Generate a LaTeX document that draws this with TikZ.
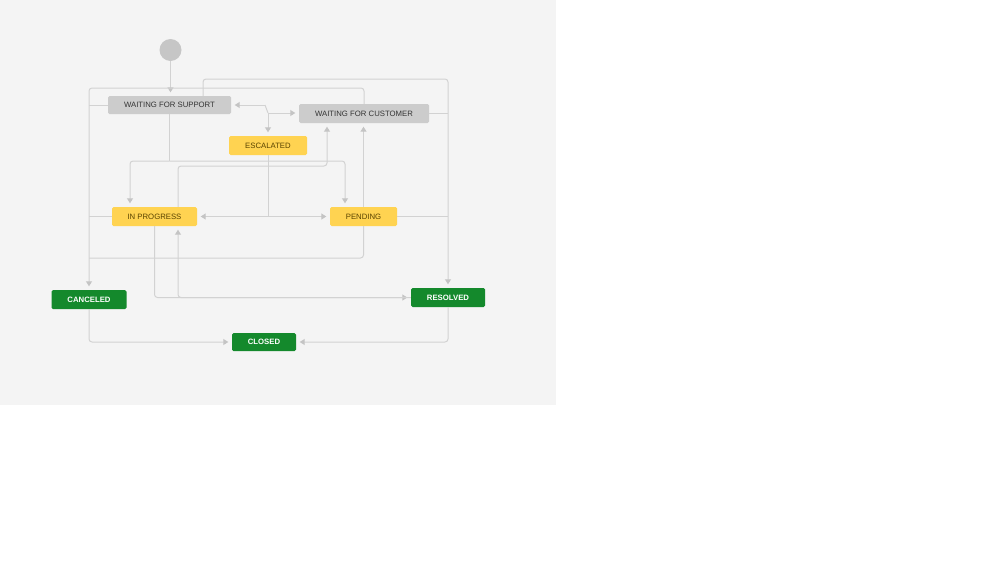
\documentclass[tikz,border=0pt]{standalone}
\usepackage{fontspec}
\setmainfont{Liberation Sans}
\usetikzlibrary{arrows.meta}
\definecolor{bggray}{HTML}{F4F4F4}
\definecolor{boxgray}{HTML}{CCCCCC}
\definecolor{boxyellow}{HTML}{FFD351}
\definecolor{boxgreen}{HTML}{14892C}
\definecolor{linegray}{HTML}{D2D2D2}
\definecolor{tipgray}{HTML}{C4C4C4}
\definecolor{txtdark}{HTML}{333333}
\definecolor{txtbrown}{HTML}{594300}
\tikzset{
  stbox/.style={rectangle, rounded corners=1.5pt, inner sep=0pt, font=\fontsize{7.75}{9}\selectfont},
  graybox/.style={stbox, fill=boxgray, text=txtdark},
  yellowbox/.style={stbox, fill=boxyellow, text=txtbrown},
  greenbox/.style={stbox, fill=boxgreen, text=white, font=\fontsize{7.75}{9}\selectfont\bfseries},
  conn/.style={draw=linegray, line width=1pt, rounded corners=3pt},
  arr/.style={conn, -{Triangle[length=5pt,width=6pt,color=tipgray]}, shorten >=3.5pt},
  arrboth/.style={conn, {Triangle[length=5pt,width=6pt,color=tipgray]}-{Triangle[length=5pt,width=6pt,color=tipgray]}, shorten >=3.5pt, shorten <=3.5pt},
}
\begin{document}
\begin{tikzpicture}[x=1pt,y=-1pt]
\useasboundingbox (0,0) rectangle (999,562);
\fill[white] (0,0) rectangle (999,562);
\fill[bggray] (0,0) rectangle (556,405);

% nodes
\node[circle, fill=boxgray!90!black!80, minimum size=22pt, inner sep=0pt] (start) at (170.5,50) {};
\node[graybox, minimum width=123pt, minimum height=18pt] (wfs) at (169.5,105) {WAITING FOR SUPPORT};
\node[graybox, minimum width=130pt, minimum height=19pt] (wfc) at (364,113.5) {WAITING FOR CUSTOMER};
\node[yellowbox, minimum width=78pt, minimum height=19pt] (esc) at (268,145.5) {ESCALATED};
\node[yellowbox, minimum width=85pt, minimum height=19pt] (inp) at (154.5,216.5) {IN PROGRESS};
\node[yellowbox, minimum width=67pt, minimum height=19pt] (pen) at (363.5,216.5) {PENDING};
\node[greenbox, minimum width=75pt, minimum height=19pt] (can) at (89,299.5) {CANCELED};
\node[greenbox, minimum width=64pt, minimum height=18pt] (clo) at (264,342) {CLOSED};
\node[greenbox, minimum width=74pt, minimum height=19pt] (res) at (448,297.5) {RESOLVED};

% helper coordinates
\coordinate (cTopL) at (89,88);
\coordinate (cTopR) at (203,79);
\coordinate (cTopRR) at (448,79);
\coordinate (cPenLow) at (89,258);
\coordinate (cEscA) at (265,105);
\coordinate (cEscB) at (268,113);
\coordinate (cWfsLow) at (169.5,161);
\coordinate (cInpL) at (130,161);
\coordinate (cPenT) at (345,161);
\coordinate (cInpT) at (178,166);
\coordinate (cWfcB) at (327,166);
\coordinate (cEscLow) at (268,216.5);
\coordinate (cInpB) at (154.5,297.5);
\coordinate (cInpB2) at (178,297.5);
\coordinate (cCanB) at (89,342);
\coordinate (cResB) at (448,342);

% connectors
\draw[arr] (start.south) -- (start.south |- wfs.north);
\draw[arr] (wfc.north) |- (cTopL) -- (can.north);
\draw[conn] (wfs.west) -- (wfs.west -| can.north);
\draw[conn] (inp.west) -- (inp.west -| can.north);
\draw[conn] (pen.south) |- (cPenLow);
\draw[arr] (wfs.north -| cTopR) |- (cTopRR) -- (res.north);
\draw[conn] (wfc.east) -- (wfc.east -| res.north);
\draw[conn] (pen.east) -- (pen.east -| res.north);
\draw[arr] (cEscA) -- (wfs.east);
\draw[conn, rounded corners=0pt] (cEscA) -- (cEscB);
\draw[arr] (cEscB) -- (wfc.west |- cEscB);
\draw[arr] (cEscB) -- (esc.north);
\draw[conn] (wfs.south) -- (cWfsLow);
\draw[arr] (cWfsLow) -| (inp.north -| cInpL);
\draw[arr] (cWfsLow) -| (pen.north -| cPenT);
\draw[arr] (inp.north -| cInpT) |- (cWfcB) -- (wfc.south -| cWfcB);
\draw[arr] (pen.north) -- (wfc.south -| pen.north);
\draw[conn] (esc.south) -- (cEscLow);
\draw[arrboth] (inp.east) -- (pen.west);
\draw[arr] (inp.south) |- (res.west);
\draw[arr] (res.west) -| (inp.south -| cInpB2);
\draw[arr] (can.south) |- (clo.west);
\draw[arr] (res.south) |- (clo.east);
\end{tikzpicture}
\end{document}
